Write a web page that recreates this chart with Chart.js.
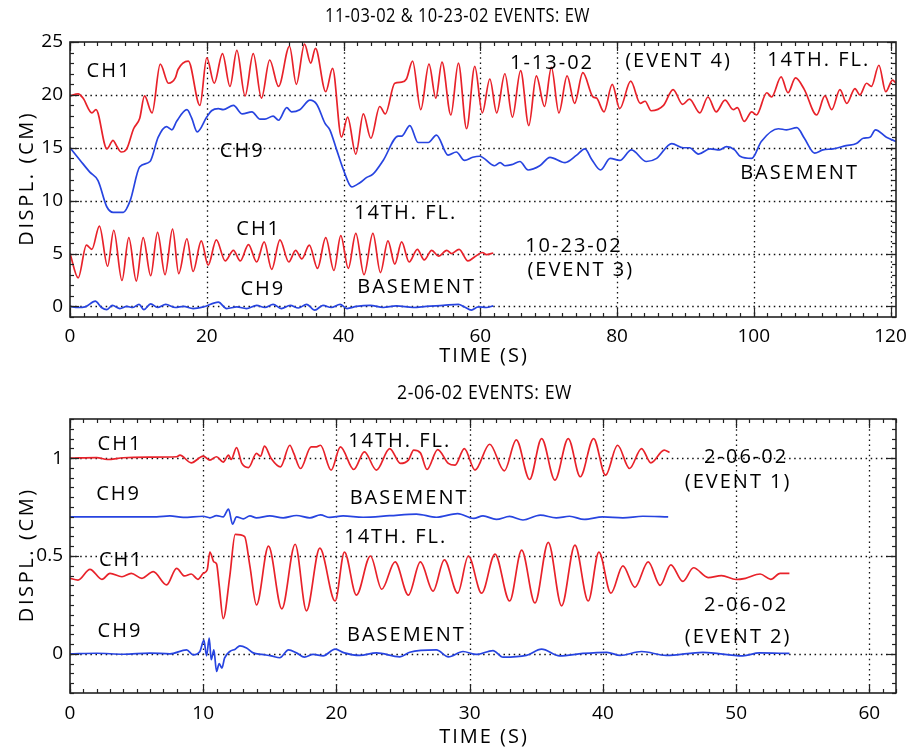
<!DOCTYPE html>
<html>
<head>
<meta charset="utf-8">
<script src="https://cdn.jsdelivr.net/npm/chart.js@4.4.1/dist/chart.umd.min.js"></script>
<style>
    body { margin: 0; background: #fff; }
    .panel { position: absolute; left: 0; width: 909px; }
    #topPanel { top: 0; height: 375px; }
    #botPanel { top: 375px; height: 374px; }
</style>
</head>
<body>
<div class="panel" id="topPanel"><canvas id="topChart" width="909" height="375"></canvas></div>
<div class="panel" id="botPanel"><canvas id="botChart" width="909" height="374"></canvas></div>
<script>
// ---- top panel: 1-13-02 (event 4) and 10-23-02 (event 3), time in s, displ. in cm
const ev4Ch1T = [0, 1.2, 1.9, 3.2, 3.8, 5.4, 6.3, 6.8, 7.5, 8.3, 9.3, 10.2, 10.9, 12.0, 13.2, 14.4, 15.4, 15.8, 17.3, 19.0, 20.0, 21.1, 22.3, 23.4, 24.4, 25.6, 26.8, 28.0, 29.2, 30.5, 32.1, 33.1, 34.3, 35.2, 35.9, 37.4, 38.4, 39.7, 40.6, 41.8, 42.9, 44.0, 45.3, 46.1, 47.5, 48.5, 49.2, 50.1, 51.3, 52.5, 53.5, 54.4, 55.7, 56.8, 58.0, 59.2, 60.3, 61.4, 62.4, 63.6, 64.7, 65.9, 67.1, 68.2, 69.4, 70.4, 71.5, 72.7, 73.8, 75.0, 76.5, 77.0, 78.1, 79.3, 80.4, 82.0, 83.4, 84.1, 85.0, 86.8, 88.2, 89.6, 90.6, 92.1, 93.3, 94.5, 95.8, 97.0, 97.6, 98.6, 99.7, 100.4, 101.9, 102.6, 104.0, 105.0, 106.1, 107.4, 109.2, 110.4, 111.4, 112.6, 113.6, 114.8, 115.5, 116.5, 117.2, 118.3, 119.3, 120.3, 120.8];
const ev4Ch1 = [19.9, 20.1, 19.7, 18.3, 18.6, 14.9, 15.7, 15.2, 14.6, 14.9, 16.8, 17.8, 19.9, 18.3, 22.9, 21.1, 21.6, 22.4, 23.2, 19.0, 23.5, 21.1, 23.9, 20.8, 24.2, 19.9, 23.9, 19.7, 23.3, 20.8, 24.6, 21.0, 24.8, 23.0, 24.4, 20.3, 22.5, 16.0, 17.9, 14.4, 18.2, 15.9, 18.9, 18.2, 21.1, 21.2, 21.5, 23.2, 18.6, 22.9, 19.7, 23.1, 18.1, 23.0, 16.8, 22.7, 18.3, 21.5, 18.3, 22.0, 17.9, 22.3, 17.1, 21.8, 18.9, 22.6, 18.3, 21.8, 19.2, 22.1, 19.8, 19.7, 18.4, 21.0, 18.7, 21.3, 19.2, 19.4, 18.5, 19.0, 20.5, 19.1, 19.6, 18.3, 19.8, 18.4, 19.5, 18.6, 18.8, 17.5, 18.4, 18.1, 20.2, 19.8, 21.7, 20.2, 21.6, 20.5, 18.1, 19.9, 18.6, 20.5, 19.2, 20.6, 20.0, 21.1, 20.8, 22.8, 20.3, 21.4, 21.1];

const ev4Ch9T = [0, 1.5, 2.9, 4.1, 5.4, 6.3, 7.8, 8.8, 10.2, 11.7, 12.9, 14.1, 14.9, 15.6, 17.1, 17.8, 18.6, 20.0, 20.7, 21.7, 22.4, 23.9, 25.2, 26.6, 27.8, 28.5, 29.7, 30.5, 31.7, 32.4, 33.6, 35.1, 36.1, 37.3, 38.0, 39.0, 40.0, 41.2, 42.4, 43.4, 44.3, 45.8, 48.0, 48.5, 49.7, 50.9, 52.4, 53.6, 55.3, 56.5, 57.7, 58.9, 59.9, 62.1, 62.9, 63.6, 64.6, 65.8, 67.0, 68.7, 70.2, 72.4, 74.1, 75.3, 76.3, 77.6, 79.0, 80.4, 82.1, 84.3, 85.8, 88.0, 89.7, 90.6, 91.9, 93.6, 95.0, 96.0, 97.2, 98.0, 99.7, 101.1, 103.6, 104.8, 106.3, 107.4, 108.9, 110.1, 111.6, 113.5, 115.0, 116.0, 117.0, 117.8, 119.4, 120.8];
const ev4Ch9 = [15.0, 13.8, 12.7, 11.9, 9.4, 8.9, 8.9, 10.0, 13.2, 13.7, 16.0, 17.0, 16.7, 17.5, 18.6, 17.8, 16.5, 17.9, 18.5, 18.7, 18.6, 19.0, 18.2, 18.4, 17.7, 17.7, 18.0, 17.6, 18.8, 18.4, 18.6, 19.5, 19.1, 17.3, 16.7, 14.8, 12.9, 11.3, 11.7, 12.2, 12.5, 13.8, 16.1, 16.1, 17.1, 15.5, 15.5, 16.2, 14.3, 14.6, 13.8, 14.1, 14.2, 13.3, 13.6, 13.3, 13.4, 13.7, 12.9, 13.3, 14.1, 13.6, 14.3, 14.9, 13.9, 12.9, 14.0, 13.8, 14.8, 13.7, 14.0, 15.4, 15.0, 15.0, 14.4, 14.9, 14.8, 15.1, 14.8, 14.2, 14.0, 15.6, 16.8, 16.7, 16.9, 15.9, 14.5, 14.8, 14.9, 15.2, 15.4, 15.9, 16.0, 16.7, 16.0, 15.6];

const ev3Ch1T = [0, 1.2, 2.4, 3.2, 4.3, 5.5, 6.4, 7.6, 8.6, 9.7, 10.7, 11.8, 12.8, 13.9, 15.0, 15.9, 17.1, 18.0, 19.2, 20.2, 21.4, 22.7, 23.9, 24.9, 26.1, 27.3, 28.4, 29.5, 30.7, 32.0, 33.0, 33.9, 35.0, 36.2, 37.4, 38.6, 39.6, 40.7, 41.8, 43.0, 44.3, 45.4, 46.5, 47.5, 48.5, 49.6, 50.8, 51.8, 52.9, 53.9, 55.1, 55.8, 56.9, 58.2, 59.2, 60.3, 60.9, 61.9];
const ev3Ch1 = [5.0, 2.7, 5.8, 5.4, 7.6, 3.8, 7.2, 2.45, 6.5, 2.4, 6.5, 2.9, 7.0, 3.0, 7.3, 3.1, 6.4, 3.3, 6.2, 3.9, 6.3, 4.3, 5.3, 4.3, 5.85, 4.2, 6.1, 3.5, 6.3, 4.2, 5.3, 4.5, 5.8, 3.6, 6.5, 3.4, 6.7, 3.6, 6.9, 3.0, 6.9, 3.2, 6.2, 4.0, 6.1, 4.2, 5.4, 4.4, 5.3, 4.75, 5.3, 5.0, 5.4, 4.3, 4.7, 5.1, 4.9, 5.05];

const ev3Ch9T = [0, 1.2, 2.2, 3.7, 4.6, 5.4, 6.2, 7.3, 8.3, 9.2, 10.1, 10.8, 11.8, 12.8, 14.0, 15.4, 16.6, 18.0, 19.5, 21.7, 22.9, 24.4, 25.8, 27.3, 28.5, 29.7, 30.9, 32.2, 33.4, 34.6, 35.8, 37.0, 38.2, 39.5, 40.5, 41.9, 43.9, 45.8, 47.7, 50.2, 52.1, 54.6, 56.8, 57.7, 58.7, 59.7, 60.9, 61.9];
const ev3Ch9 = [0.0, -0.1, -0.05, 0.5, -0.1, -0.3, 0.1, -0.2, 0.0, -0.1, 0.2, -0.3, 0.25, -0.1, 0.2, -0.1, 0.0, -0.2, -0.05, 0.4, -0.2, -0.05, -0.2, 0.1, -0.1, 0.2, -0.2, 0.1, -0.15, 0.2, -0.35, 0.1, -0.1, 0.2, -0.2, 0.0, 0.1, -0.1, 0.05, -0.1, 0.0, 0.1, 0.2, -0.05, -0.35, -0.05, -0.1, 0.05];

// ---- bottom panel: 2-06-02 (events 1 and 2)
const ev1Ch1T = [0, 2.0, 2.8, 4.0, 6.0, 8.0, 8.25, 9.1, 10.0, 10.5, 11.0, 11.5, 11.9, 12.1, 12.5, 12.9, 13.4, 14.0, 14.3, 14.6, 15.1, 15.8, 16.5, 16.8, 17.3, 18.1, 18.5, 18.8, 19.6, 20.3, 21.3, 22.1, 23.0, 24.0, 24.8, 25.4, 25.8, 26.3, 26.8, 27.6, 28.4, 28.9, 29.6, 30.4, 31.5, 32.6, 33.5, 34.5, 35.4, 36.4, 37.4, 38.3, 39.3, 40.2, 41.1, 42.0, 42.9, 43.6, 44.6, 45.0];
const ev1Ch1 = [1.0, 1.003, 0.993, 1.002, 1.005, 1.007, 1.015, 0.976, 1.01, 0.99, 1.007, 0.98, 1.015, 0.993, 1.054, 0.973, 0.952, 1.024, 1.01, 1.061, 0.998, 0.955, 1.066, 1.024, 0.947, 1.058, 1.058, 1.066, 0.939, 1.058, 0.942, 1.032, 0.939, 1.049, 0.973, 0.99, 1.041, 1.027, 0.942, 1.044, 0.973, 0.964, 1.049, 0.939, 1.071, 0.935, 1.093, 0.891, 1.1, 0.888, 1.1, 0.905, 1.1, 0.913, 1.066, 0.947, 1.049, 0.976, 1.041, 1.029];

const ev1Ch9T = [0, 6.5, 7.5, 8.5, 10.0, 10.5, 11.0, 11.5, 11.9, 12.2, 12.5, 13.0, 13.5, 14.0, 15.0, 16.0, 17.0, 18.0, 18.8, 19.5, 20.5, 22.0, 24.0, 26.0, 27.5, 29.1, 30.3, 31.0, 32.0, 33.0, 34.0, 35.3, 36.5, 37.5, 38.6, 40.0, 41.5, 43.0, 44.9];
const ev1Ch9 = [0.70, 0.70, 0.705, 0.697, 0.703, 0.695, 0.706, 0.70, 0.74, 0.663, 0.70, 0.69, 0.705, 0.695, 0.705, 0.695, 0.707, 0.695, 0.71, 0.697, 0.705, 0.698, 0.706, 0.714, 0.698, 0.717, 0.692, 0.705, 0.687, 0.702, 0.684, 0.709, 0.695, 0.703, 0.687, 0.70, 0.695, 0.703, 0.70];

const ev2Ch1T = [0, 0.6, 1.5, 2.4, 3.0, 3.9, 4.6, 5.4, 6.25, 7.25, 8.0, 8.6, 9.1, 9.6, 10.0, 10.3, 10.5, 10.8, 11.0, 11.2, 11.5, 12.0, 12.4, 13.1, 13.5, 14.0, 14.9, 15.9, 16.9, 17.75, 18.75, 19.9, 20.6, 21.5, 22.55, 23.4, 24.4, 25.4, 26.3, 27.25, 28.1, 29.1, 29.9, 30.9, 31.9, 33.0, 33.9, 34.9, 35.9, 36.9, 37.9, 38.9, 39.7, 40.6, 41.5, 42.4, 43.4, 44.3, 45.1, 46.0, 46.8, 47.9, 48.9, 50.0, 50.7, 51.8, 52.6, 53.3, 54.0];
const ev2Ch1 = [0.386, 0.377, 0.432, 0.381, 0.411, 0.394, 0.411, 0.386, 0.42, 0.352, 0.437, 0.398, 0.408, 0.381, 0.411, 0.43, 0.52, 0.47, 0.46, 0.35, 0.18, 0.40, 0.61, 0.60, 0.45, 0.25, 0.55, 0.23, 0.56, 0.22, 0.54, 0.27, 0.52, 0.30, 0.50, 0.33, 0.47, 0.30, 0.47, 0.32, 0.48, 0.31, 0.50, 0.31, 0.51, 0.27, 0.53, 0.26, 0.57, 0.245, 0.556, 0.27, 0.52, 0.31, 0.45, 0.34, 0.47, 0.35, 0.455, 0.37, 0.44, 0.39, 0.40, 0.38, 0.386, 0.408, 0.381, 0.411, 0.411];

const ev2Ch9T = [0, 2, 4, 6, 7.5, 8.75, 9.25, 9.75, 10.05, 10.25, 10.45, 10.6, 10.8, 11.0, 11.2, 11.4, 11.6, 12.0, 12.4, 12.75, 13.25, 13.75, 14.4, 15.1, 15.75, 16.4, 17.0, 17.6, 18.25, 19.0, 19.9, 20.6, 21.75, 23.0, 24.75, 25.5, 27.5, 28.4, 29.5, 30.5, 31.75, 32.5, 34.25, 35.4, 36.75, 38.5, 40.3, 41.3, 42.9, 44.75, 47.5, 50.5, 51.75, 54.0];
const ev2Ch9 = [0, 0.003, -0.002, 0.004, 0, 0.02, -0.005, 0.012, 0.07, -0.01, 0.08, -0.03, 0.02, -0.09, -0.05, -0.073, -0.022, 0.012, 0.024, 0.041, 0.03, 0.005, -0.003, -0.01, -0.02, 0.02, 0.005, -0.017, -0.003, -0.01, 0.024, 0.005, -0.008, 0.005, -0.015, 0.008, 0.02, -0.015, 0.012, -0.003, 0.017, -0.017, -0.008, 0.024, -0.01, 0.002, 0.008, -0.008, 0.012, -0.008, 0.008, -0.01, 0.005, 0.002];

// tick labels
const topXTicks = [0, 20, 40, 60, 80, 100, 120];
const topYTicks = [0, 5, 10, 15, 20, 25];
const botXTicks = [0, 10, 20, 30, 40, 50, 60];
const botYTicks = [0, 0.5, 1];

// text annotations, anchored in data units
const topLabels = [
    ['CH1', 5.4, 22.2], ['CH9', 24.9, 14.7], ['1-13-02', 70.2, 23.0], ['(EVENT 4)', 88.7, 23.2],
    ['14TH. FL.', 109.2, 23.3], ['BASEMENT', 106.4, 12.6], ['14TH. FL.', 48.8, 8.8], ['CH1', 27.3, 7.3],
    ['10-23-02', 73.4, 5.7], ['(EVENT 3)', 74.4, 3.4], ['CH9', 27.9, 1.6], ['BASEMENT', 50.4, 1.8]
];
const botLabels = [
    ['CH1', 3.6, 1.071], ['14TH. FL.', 24.6, 1.087], ['2-06-02', 50.6, 1.005], ['(EVENT 1)', 50.0, 0.878],
    ['CH9', 3.5, 0.816], ['BASEMENT', 25.3, 0.796], ['14TH. FL.', 24.3, 0.597], ['CH1', 3.7, 0.48],
    ['2-06-02', 50.6, 0.25], ['(EVENT 2)', 50.0, 0.087], ['CH9', 3.6, 0.117], ['BASEMENT', 25.1, 0.097]
];

const RED = '#e8222a';
const BLUE = '#2744e0';
const FONT = '"Open Sans", "DejaVu Sans", sans-serif';

function trace(ts, vs, color) {
    return {
        data: ts.map((t, i) => ({ x: t, y: vs[i] })),
        borderColor: color,
        borderWidth: 1.7,
        pointRadius: 0,
        fill: false,
        cubicInterpolationMode: 'monotone'
    };
}

function hLine(ctx, x1, x2, y) { ctx.beginPath(); ctx.moveTo(x1, y); ctx.lineTo(x2, y); ctx.stroke(); }
function vLine(ctx, x, y1, y2) { ctx.beginPath(); ctx.moveTo(x, y1); ctx.lineTo(x, y2); ctx.stroke(); }

function spacedText(ctx, text, x, y, spacing) {
    ctx.letterSpacing = spacing + 'px';
    ctx.fillText(text, x + spacing / 2, y);
}

const framePlugin = {
    id: 'frame',
    beforeDatasetsDraw(chart, args, o) {
        const { ctx, chartArea: a, scales: { x, y } } = chart;
        ctx.save();
        ctx.strokeStyle = '#111';
        ctx.lineWidth = 1.3;
        ctx.setLineDash([1.5, 3.6]);
        o.xMajor.forEach(v => {
            const px = Math.round(x.getPixelForValue(v)) + 0.5;
            if (px > a.left + 2 && px < a.right - 2) vLine(ctx, px, a.top, a.bottom);
        });
        o.yMajor.forEach(v => {
            const py = Math.round(y.getPixelForValue(v)) + 0.5;
            if (py > a.top + 2 && py < a.bottom - 2) hLine(ctx, a.left, a.right, py);
        });
        ctx.restore();
    },
    afterDatasetsDraw(chart, args, o) {
        const { ctx, chartArea: a, scales: { x, y } } = chart;
        ctx.save();
        ctx.strokeStyle = '#222';
        ctx.lineWidth = 1.2;
        // minor ticks
        for (let v = x.min; v <= x.max + 1e-6; v += o.xMinor) {
            const px = Math.round(x.getPixelForValue(Math.round(v / o.xMinor) * o.xMinor)) + 0.5;
            vLine(ctx, px, a.bottom, a.bottom - 4);
            vLine(ctx, px, a.top, a.top + 4);
        }
        for (let v = Math.ceil(y.min / o.yMinor) * o.yMinor; v <= y.max + 1e-6; v += o.yMinor) {
            const py = Math.round(y.getPixelForValue(v)) + 0.5;
            hLine(ctx, a.left, a.left + 4, py);
            hLine(ctx, a.right, a.right - 4, py);
        }
        // major ticks
        o.xMajor.forEach(v => {
            const px = Math.round(x.getPixelForValue(v)) + 0.5;
            vLine(ctx, px, a.bottom, a.bottom - 9);
            vLine(ctx, px, a.top, a.top + 9);
        });
        o.yMajor.forEach(v => {
            const py = Math.round(y.getPixelForValue(v)) + 0.5;
            hLine(ctx, a.left, a.left + 9, py);
            hLine(ctx, a.right, a.right - 9, py);
        });
        ctx.lineWidth = 1.6;
        ctx.strokeRect(a.left, a.top, a.right - a.left, a.bottom - a.top);

        ctx.fillStyle = '#000';
        ctx.textBaseline = 'middle';
        // curve annotations
        ctx.textAlign = 'center';
        ctx.font = '20px ' + FONT;
        o.labels.forEach(([text, t, v]) => {
            spacedText(ctx, text, x.getPixelForValue(t) + 1, y.getPixelForValue(v), 2);
        });
        // panel title: tall, narrow lettering squeezed into [titleLeft, titleRight]
        ctx.save();
        ctx.textAlign = 'left';
        ctx.letterSpacing = '0.6px';
        ctx.font = '20px ' + FONT;
        const squeeze = (o.titleRight - o.titleLeft) / ctx.measureText(o.title).width;
        ctx.translate(o.titleLeft, a.top - 26);
        ctx.scale(squeeze, 1);
        ctx.fillText(o.title, 0, 0);
        ctx.restore();
        // axis titles
        ctx.textAlign = 'center';
        ctx.font = '20px ' + FONT;
        spacedText(ctx, 'TIME (S)', (a.left + a.right) / 2, a.bottom + o.xTitleGap, 2);
        ctx.save();
        ctx.translate(27, (a.top + a.bottom) / 2);
        ctx.rotate(-Math.PI / 2);
        spacedText(ctx, 'DISPL. (CM)', 0, 0, 2.6);
        ctx.restore();
        ctx.restore();
    }
};

function buildChart(canvasId, cfg) {
    const tickFont = { family: FONT, size: 19 };
    return new Chart(document.getElementById(canvasId), {
        type: 'line',
        data: { datasets: cfg.datasets },
        plugins: [framePlugin],
        options: {
            responsive: false,
            animation: false,
            parsing: false,
            layout: { padding: { left: 0, right: 13, top: cfg.topPad, bottom: 0 } },
            plugins: {
                legend: { display: false },
                tooltip: { enabled: false },
                title: { display: false },
                frame: {
                    xMajor: cfg.xTicks,
                    yMajor: cfg.yTicks,
                    xMinor: cfg.xMinor,
                    yMinor: cfg.yMinor,
                    labels: cfg.labels,
                    title: cfg.title,
                    titleLeft: cfg.titleSpan[0],
                    titleRight: cfg.titleSpan[1],
                    xTitleGap: cfg.xTitleGap
                }
            },
            scales: {
                x: {
                    type: 'linear',
                    min: cfg.xMin,
                    max: cfg.xMax,
                    grid: { display: false, drawTicks: false },
                    border: { display: false },
                    ticks: { font: tickFont, color: '#000', padding: cfg.xTickPad, maxRotation: 0, autoSkip: false, callback: v => String(v) },
                    afterBuildTicks: s => { s.ticks = cfg.xTicks.map(v => ({ value: v })); },
                    afterFit: s => { s.height = cfg.xHeight; s.paddingLeft = 0; s.paddingRight = 0; }
                },
                y: {
                    type: 'linear',
                    min: cfg.yMin,
                    max: cfg.yMax,
                    grid: { display: false, drawTicks: false },
                    border: { display: false },
                    ticks: { font: tickFont, color: '#000', padding: 7, autoSkip: false, callback: v => String(v) },
                    afterBuildTicks: s => { s.ticks = cfg.yTicks.map(v => ({ value: v })); },
                    afterFit: s => { s.width = 70; s.paddingTop = 0; s.paddingBottom = 0; }
                }
            }
        }
    });
}

buildChart('topChart', {
    title: '11-03-02 & 10-23-02 EVENTS: EW',
    titleSpan: [325, 590],
    topPad: 42,
    datasets: [
        trace(ev4Ch1T, ev4Ch1, RED),
        trace(ev4Ch9T, ev4Ch9, BLUE),
        trace(ev3Ch1T, ev3Ch1, RED),
        trace(ev3Ch9T, ev3Ch9, BLUE)
    ],
    xMin: 0, xMax: 120.8, yMin: -1, yMax: 25,
    xTicks: topXTicks, yTicks: topYTicks, xMinor: 2, yMinor: 1,
    xHeight: 58, xTickPad: 8.6, xTitleGap: 39,
    labels: topLabels
});

buildChart('botChart', {
    title: '2-06-02 EVENTS: EW',
    titleSpan: [397, 572],
    topPad: 44,
    datasets: [
        trace(ev1Ch1T, ev1Ch1, RED),
        trace(ev1Ch9T, ev1Ch9, BLUE),
        trace(ev2Ch1T, ev2Ch1, RED),
        trace(ev2Ch9T, ev2Ch9, BLUE)
    ],
    xMin: 0, xMax: 62, yMin: -0.2, yMax: 1.2,
    xTicks: botXTicks, yTicks: botYTicks, xMinor: 1, yMinor: 0.05,
    xHeight: 56, xTickPad: 9.6, xTitleGap: 44,
    labels: botLabels
});
</script>
</body>
</html>
